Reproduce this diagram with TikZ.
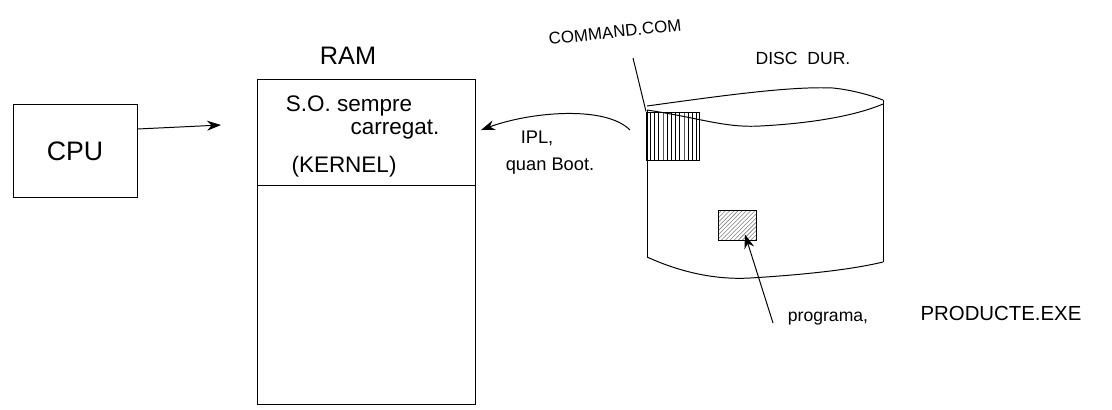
\documentclass[tikz,border=0pt]{standalone}
\usepackage{fontspec}
\setmainfont{Liberation Sans}
\usetikzlibrary{arrows.meta,patterns}

\begin{document}
\begin{tikzpicture}[x=0.25mm, y=-0.25mm, line width=0.7pt,
  box/.style={draw, inner sep=0pt},
  arrow/.style={-{Stealth[length=3.5mm, width=2.5mm]}},
  hand/.style={font=\fontsize{#1}{#1}\selectfont}]
\useasboundingbox (0,0) rectangle (1112,409);
% CPU and RAM
\node[box, hand=19pt, minimum width=31mm, minimum height=23.25mm] (cpu) at (75,151) {CPU};
\node[box, minimum width=54.5mm, minimum height=81.25mm] (ram) at (366,242) {};
\draw (257,185) -- (475,185);
\node[hand=18pt] (ramlabel) at (348,56) {RAM};
\node[hand=16pt] (so) at (349,106) {S.O. sempre};
\node[hand=16pt] (carregat) at (395,130) {carregat.};
\node[hand=16pt] (kernel) at (344,167) {(KERNEL)};
\coordinate (ramin) at (221,125);
\draw[arrow] ([yshift=5.5mm]cpu.east) -- (ramin);
% disc
\draw (647,106) .. controls (720,96) and (790,86) .. (833,88) .. controls (852,90) and (870,95) .. (883,100);
\draw (647,110) .. controls (700,118) and (725,128) .. (760,126) .. controls (800,124) and (850,118) .. (883,104);
\draw (647,110) -- (647,257);
\draw (883,100) -- (883,262);
\draw (647,257) .. controls (680,272) and (715,280) .. (750,278) .. controls (800,275) and (850,270) .. (883,262);
\node[hand=12.5pt] (disc) at (803,58) {DISC~~DUR.};
\node[box, pattern=vertical lines, minimum width=13.25mm, minimum height=12mm] (cmdfile) at (673,136) {};
\node[box, pattern=north east lines, pattern color=gray, minimum width=9.5mm, minimum height=7.5mm] (progfile) at (737,225) {};
\node[hand=12pt, rotate=6] (cmdlabel) at (615,32) {COMMAND.COM};
\coordinate (cmdlead) at (633,58);
\draw (cmdlead) -- (cmdfile.north west);
% IPL
\coordinate (ipltail) at (630,130);
\coordinate (ipltip) at (481,130);
\draw[arrow] (ipltail) .. controls (605,105) and (530,112) .. (ipltip);
\node[hand=13pt] (ipl) at (537,138) {IPL,};
\node[hand=13pt] (boot) at (550,166) {quan Boot.};
% programa
\coordinate (progtail) at (773,323);
\draw[arrow] (progtail) -- ([xshift=2mm, yshift=1.5mm]progfile.south);
\node[hand=12.5pt] (programa) at (828,319) {programa,};
\node[hand=14.5pt] (producte) at (1001,313) {PRODUCTE.EXE};
\end{tikzpicture}
\end{document}
